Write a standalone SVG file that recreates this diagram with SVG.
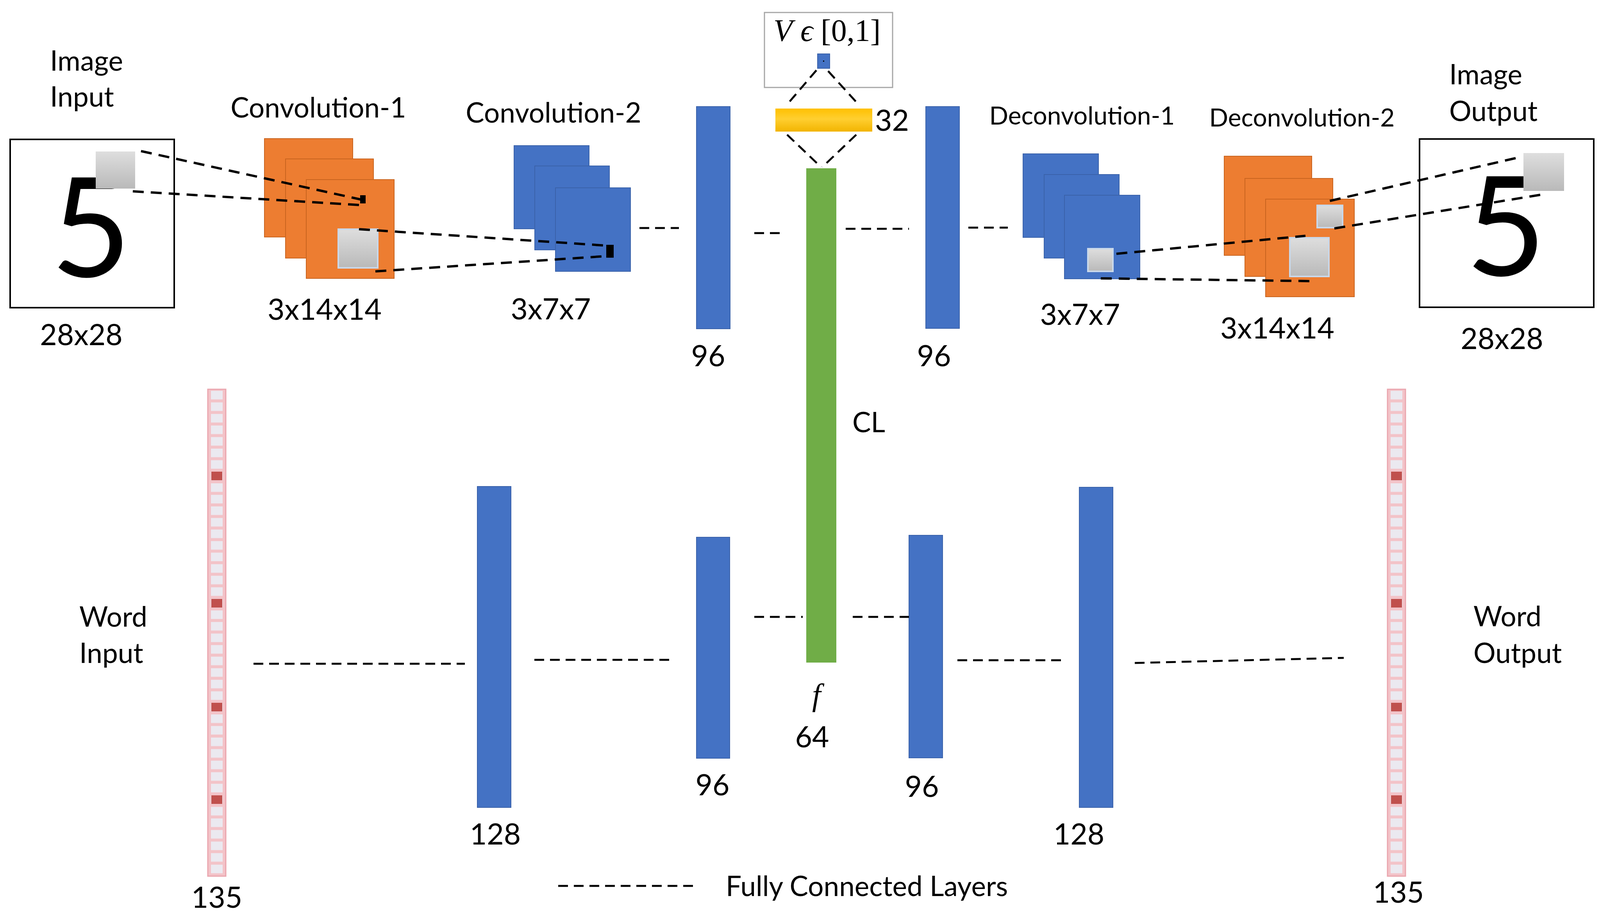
<svg xmlns="http://www.w3.org/2000/svg" xmlns:xlink="http://www.w3.org/1999/xlink" width="4107" height="2364" viewBox="0 0 4107 2364">
<style>
.t{font-family:Lato,"Open Sans","Liberation Sans",sans-serif;fill:#000}
.lbl{font-size:71px}
.num{font-size:75px}
.dc{font-size:64px}
.big{font-size:355px}
.m{font-family:"Liberation Serif","DejaVu Serif",serif;fill:#000}
.fc{stroke:#000;stroke-width:5;stroke-dasharray:25 15;fill:none}
.fd{stroke:#000;stroke-width:6;stroke-dasharray:28 18;fill:none}
.or{fill:#ED7D31;stroke:#C9641F;stroke-width:2}
.bl{fill:#4472C4;stroke:#3A62AA;stroke-width:2}
.gr{fill:url(#gg)}
.gri{fill:url(#gg);stroke:#c9d8ea;stroke-width:4}
.box{fill:#fff;stroke:#000;stroke-width:4}
.red{fill:#C0504D}
</style>
<defs>
<linearGradient id="gg" x1="0" y1="0" x2="0" y2="1">
<stop offset="0" stop-color="#dedede"/>
<stop offset="1" stop-color="#b9b9b9"/>
</linearGradient>
<linearGradient id="yg" x1="0" y1="0" x2="0" y2="1">
<stop offset="0" stop-color="#ffc000"/>
<stop offset="0.45" stop-color="#ffcf30"/>
<stop offset="1" stop-color="#f2b400"/>
</linearGradient>
<pattern id="cells" patternUnits="userSpaceOnUse" x="0" y="0" width="46" height="29.6">
<rect x="0" y="0" width="46" height="29.6" fill="#f3c3c8"/>
<rect x="8" y="4" width="30" height="22" fill="#ebe9f0"/>
</pattern>
<g id="wordvec">
<rect x="0" y="0" width="46" height="1247" fill="url(#cells)" stroke="#eaa5ae" stroke-width="3"/>
<rect class="red" x="9" y="211" width="28" height="22"/>
<rect class="red" x="9" y="537" width="28" height="22"/>
<rect class="red" x="9" y="803" width="28" height="22"/>
<rect class="red" x="9" y="1040" width="28" height="22"/>
</g>
</defs>
<rect x="0" y="0" width="4107" height="2364" fill="#fff"/>

<g id="image-input">
<text class="t lbl" x="128" y="181">Image</text>
<text class="t lbl" x="128" y="273">Input</text>
<rect class="box" x="26" y="357" width="420" height="431"/>
<text class="t big" x="233" y="709" text-anchor="middle">5</text>
<rect class="gr" x="245" y="388" width="101" height="95"/>
<text class="t num" x="208" y="884" text-anchor="middle">28x28</text>
</g>

<g id="conv1">
<text class="t lbl" x="815" y="301" text-anchor="middle">Convolution-1</text>
<rect class="or" x="677" y="355" width="226" height="252"/>
<rect class="or" x="731" y="407" width="225" height="254"/>
<rect class="or" x="784" y="460" width="225" height="253"/>
<rect class="gri" x="866" y="587" width="101" height="99"/>
<rect x="922" y="500" width="14" height="21" fill="#000"/>
<text class="t num" x="831" y="819" text-anchor="middle">3x14x14</text>
</g>

<g id="conv2">
<text class="t lbl" x="1417" y="314" text-anchor="middle">Convolution-2</text>
<rect class="bl" x="1316" y="373" width="192" height="213"/>
<rect class="bl" x="1369" y="425" width="191" height="215"/>
<rect class="bl" x="1422" y="481" width="192" height="214"/>
<rect x="1552" y="627" width="19" height="33" fill="#000"/>
<text class="t num" x="1410" y="818" text-anchor="middle">3x7x7</text>
</g>

<g id="fc-img-enc">
<rect class="bl" x="1783" y="273" width="86" height="569"/>
<text class="t num" x="1813" y="938" text-anchor="middle">96</text>
</g>

<g id="v-output">
<rect x="1957" y="32" width="328" height="192" fill="#fff" stroke="#a6a6a6" stroke-width="3"/>
<text class="m" x="1980" y="105" font-size="80"><tspan font-style="italic">V</tspan> <tspan font-style="italic">ϵ</tspan> [0,1]</text>
<rect x="2093" y="138" width="31" height="37" fill="#4472C4" stroke="#3A62AA" stroke-width="2"/>
<rect x="2107" y="155" width="3" height="3" fill="#000"/>
</g>

<g id="layer32">
<rect x="1985" y="278" width="248" height="59" fill="url(#yg)"/>
<text class="t num" x="2240" y="335">32</text>
</g>

<g id="cl">
<rect x="2064" y="431" width="77" height="1266" fill="#70AD47"/>
<text class="t lbl" x="2182" y="1107">CL</text>
<text class="m" x="2090" y="1807" font-size="80" font-style="italic" text-anchor="middle">f</text>
<text class="t num" x="2079" y="1914" text-anchor="middle">64</text>
</g>

<g id="fc-img-dec">
<rect class="bl" x="2370" y="273" width="86" height="568"/>
<text class="t num" x="2391" y="938" text-anchor="middle">96</text>
</g>

<g id="deconv1">
<text class="t dc" x="2770" y="319" text-anchor="middle">Deconvolution-1</text>
<rect class="bl" x="2619" y="394" width="193" height="214"/>
<rect class="bl" x="2673" y="447" width="192" height="214"/>
<rect class="bl" x="2725" y="500" width="193" height="214"/>
<rect class="gri" x="2785" y="637" width="64" height="58"/>
<text class="t num" x="2765" y="832" text-anchor="middle">3x7x7</text>
</g>

<g id="deconv2">
<text class="t dc" x="3333" y="324" text-anchor="middle">Deconvolution-2</text>
<rect class="or" x="3134" y="400" width="224" height="254"/>
<rect class="or" x="3187" y="457" width="225" height="251"/>
<rect class="or" x="3240" y="510" width="227" height="250"/>
<rect class="gri" x="3372" y="526" width="65" height="57"/>
<rect class="gri" x="3302" y="609" width="100" height="99"/>
<text class="t num" x="3270" y="867" text-anchor="middle">3x14x14</text>
</g>

<g id="image-output">
<text class="t lbl" x="3710" y="216">Image</text>
<text class="t lbl" x="3710" y="310">Output</text>
<rect class="box" x="3634" y="356" width="446" height="431"/>
<text class="t big" x="3855" y="706" text-anchor="middle">5</text>
<rect class="gr" x="3900" y="392" width="104" height="97"/>
<text class="t num" x="3845" y="894" text-anchor="middle">28x28</text>
</g>

<g id="word-input">
<text class="t lbl" x="203" y="1605">Word</text>
<text class="t lbl" x="203" y="1698">Input</text>
<use xlink:href="#wordvec" href="#wordvec" x="532" y="997"/>
<text class="t num" x="555" y="2325" text-anchor="middle">135</text>
</g>

<g id="fc-word-enc1">
<rect class="bl" x="1222" y="1246" width="86" height="822"/>
<text class="t num" x="1268" y="2163" text-anchor="middle">128</text>
</g>

<g id="fc-word-enc2">
<rect class="bl" x="1783" y="1376" width="85" height="566"/>
<text class="t num" x="1824" y="2037" text-anchor="middle">96</text>
</g>

<g id="fc-word-dec1">
<rect class="bl" x="2327" y="1371" width="86" height="570"/>
<text class="t num" x="2360" y="2041" text-anchor="middle">96</text>
</g>

<g id="fc-word-dec2">
<rect class="bl" x="2763" y="1248" width="86" height="820"/>
<text class="t num" x="2762" y="2163" text-anchor="middle">128</text>
</g>

<g id="word-output">
<text class="t lbl" x="3772" y="1604">Word</text>
<text class="t lbl" x="3772" y="1698">Output</text>
<use xlink:href="#wordvec" href="#wordvec" x="3552" y="997"/>
<text class="t num" x="3580" y="2312" text-anchor="middle">135</text>
</g>

<g id="legend">
<line class="fc" x1="1429" y1="2269" x2="1777" y2="2269"/>
<text class="t lbl" x="1858" y="2295">Fully Connected Layers</text>
</g>

<g id="connectors">
<line class="fd" x1="361" y1="387" x2="933" y2="513"/>
<line class="fd" x1="340" y1="490" x2="919" y2="525"/>
<line class="fd" x1="919" y1="587" x2="1552" y2="629"/>
<line class="fd" x1="961" y1="695" x2="1552" y2="656"/>
<line class="fc" x1="1637" y1="584" x2="1738" y2="584"/>
<line class="fc" x1="1931" y1="597" x2="2005" y2="597"/>
<line class="fc" x1="2165" y1="586" x2="2327" y2="586"/>
<line class="fc" x1="2479" y1="583" x2="2580" y2="583"/>
<line class="fc" x1="2090" y1="180" x2="2013" y2="270"/>
<line class="fc" x1="2120" y1="182" x2="2200" y2="270"/>
<line class="fc" x1="2015" y1="345" x2="2102" y2="428"/>
<line class="fc" x1="2192" y1="345" x2="2105" y2="428"/>
<line class="fd" x1="2858" y1="650" x2="3342" y2="604"/>
<line class="fd" x1="2818" y1="713" x2="3358" y2="720"/>
<line class="fd" x1="3880" y1="405" x2="3398" y2="516"/>
<line class="fd" x1="3943" y1="499" x2="3404" y2="587"/>
<line class="fc" x1="649" y1="1700" x2="1190" y2="1700"/>
<line class="fc" x1="1368" y1="1690" x2="1719" y2="1690"/>
<line class="fc" x1="1931" y1="1580" x2="2055" y2="1580"/>
<line class="fc" x1="2183" y1="1580" x2="2327" y2="1580"/>
<line class="fc" x1="2451" y1="1691" x2="2720" y2="1691"/>
<line class="fc" x1="2905" y1="1698" x2="3440" y2="1685"/>
</g>
</svg>
